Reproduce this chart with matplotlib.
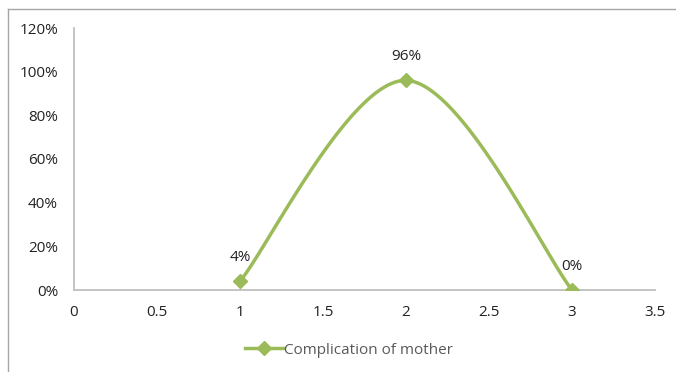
import numpy as np
import matplotlib.pyplot as plt
from matplotlib.lines import Line2D

# data
x_vals = [1, 2, 3]
y_vals = [0.04, 0.96, 0.00]
point_labels = ["4%", "96%", "0%"]
series_name = "Complication of mother"
x_ticks = [0, 0.5, 1, 1.5, 2, 2.5, 3, 3.5]
x_tick_labels = ["0", "0.5", "1", "1.5", "2", "2.5", "3", "3.5"]
y_ticks = [0, 0.2, 0.4, 0.6, 0.8, 1.0, 1.2]
y_tick_labels = ["0%", "20%", "40%", "60%", "80%", "100%", "120%"]

green = "#9BBB59"
plt.rcParams['font.family'] = ['Open Sans', 'DejaVu Sans']


def smooth_line(xs, ys, n=60):
    '''
    Excel style smoothed line: cubic bezier segments with
    catmull-rom control points (end points duplicated).
    '''
    p = np.column_stack([xs, ys]).astype(float)
    p_ext = np.vstack([p[0], p, p[-1]])
    out = []
    t = np.linspace(0, 1, n)[:, None]
    for i in range(len(p) - 1):
        p0 = p_ext[i + 1]
        p3 = p_ext[i + 2]
        c1 = p0 + (p_ext[i + 2] - p_ext[i]) / 6
        c2 = p3 - (p_ext[i + 3] - p_ext[i + 1]) / 6
        seg = ((1 - t)**3 * p0 + 3 * (1 - t)**2 * t * c1
               + 3 * (1 - t) * t**2 * c2 + t**3 * p3)
        out.append(seg)
    out = np.vstack(out)
    return out[:, 0], out[:, 1]


fig = plt.figure(figsize=(6.76, 3.72), dpi=100)
ax = fig.add_axes([74 / 676, 82 / 372, 581 / 676, 262 / 372])

sx, sy = smooth_line(x_vals, y_vals)
ax.plot(sx, sy, color=green, lw=2.5, solid_capstyle='round', zorder=3)
ax.plot(x_vals, y_vals, ls='none', marker='D', ms=7, color=green, zorder=4)

for xv, yv, lab in zip(x_vals, y_vals, point_labels):
    ax.annotate(lab, (xv, yv), xytext=(0, 17), textcoords='offset points',
                ha='center', va='center', fontsize=11, color='#222222')

ax.set_xlim(0, 3.5)
ax.set_ylim(0, 1.2)
ax.set_xticks(x_ticks)
ax.set_xticklabels(x_tick_labels)
ax.set_yticks(y_ticks)
ax.set_yticklabels(y_tick_labels)
ax.tick_params(length=0, labelsize=11, colors='#222222')
ax.tick_params(axis='x', pad=10.5)
ax.tick_params(axis='y', pad=11.5)

for side in ['top', 'right']:
    ax.spines[side].set_visible(False)
for side in ['left', 'bottom']:
    ax.spines[side].set_color('#BFBFBF')
    ax.spines[side].set_linewidth(1.3)

handle = Line2D([], [], color=green, lw=2.5, marker='D', ms=7)
fig.legend([handle], [series_name], loc='center',
           bbox_to_anchor=(349 / 676, 1 - 350 / 372), frameon=False,
           handlelength=2.5, handletextpad=0.1, fontsize=11,
           labelcolor='#595959')

# chart border (cropped at right / bottom)
fig.add_artist(Line2D([8 / 676, 1], [1 - 9 / 372, 1 - 9 / 372],
                      transform=fig.transFigure, color='#A6A6A6', lw=1))
fig.add_artist(Line2D([8 / 676, 8 / 676], [1 - 9 / 372, 0],
                      transform=fig.transFigure, color='#A6A6A6', lw=1))

fig.savefig("out.png", dpi=100)
